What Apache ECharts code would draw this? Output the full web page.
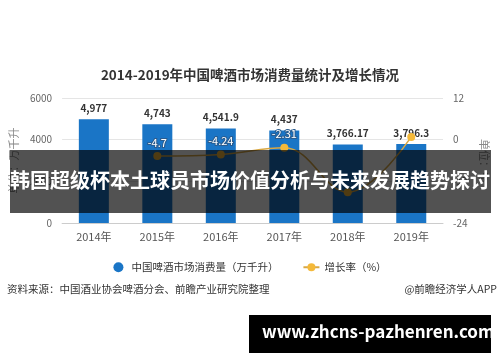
<!DOCTYPE html>
<html><head><meta charset="utf-8">
<script src="https://cdn.jsdelivr.net/npm/echarts@6/dist/echarts.min.js"></script>
<style>html,body{margin:0;padding:0;background:#fff}#c{width:500px;height:362px}</style>
</head><body><div id="c"></div>
<script>
var years = ['2014年','2015年','2016年','2017年','2018年','2019年'];
var consumption = [4977, 4743, 4541.9, 4437, 3766.17, 3796.3];
var growth = [null, -4.7, -4.24, -2.31, -15.12, 0.8];
var growthLabelShown = [false, true, true, true, false, false];
var leftTicks = [0, 2000, 4000, 6000];
var rightTicks = [-24, -12, 0, 12];

var FONT = '"Noto Sans CJK SC", "Noto Sans", sans-serif';
function fmt(v){
  var s = String(v).split('.');
  s[0] = s[0].replace(/\B(?=(\d{3})+(?!\d))/g, ',');
  return s.join('.');
}
var chart = echarts.init(document.getElementById('c'), null, {renderer:'canvas'});
chart.setOption({
  textStyle:{fontFamily:FONT},
  title:{text:'2014-2019年中国啤酒市场消费量统计及增长情况', left:'center', top:63,
    textStyle:{fontSize:13.5, fontWeight:'bold', color:'#333', fontFamily:FONT}},
  grid:{left:62, right:57, top:98, bottom:139},
  legend:{top:257, left:'center', itemGap:24, itemWidth:16, itemHeight:10,
    textStyle:{fontSize:10.5, color:'#333', fontFamily:FONT},
    data:[{name:'中国啤酒市场消费量（万千升）', icon:'circle'}, {name:'增长率（%）'}]},
  xAxis:{type:'category', data:years,
    axisLine:{lineStyle:{color:'#ccc'}}, axisTick:{show:false},
    axisLabel:{fontSize:11, color:'#555', margin:8, fontFamily:FONT}},
  yAxis:[
    {type:'value', min:leftTicks[0], max:leftTicks[leftTicks.length-1], interval:2000,
     name:'单位：万千升', nameLocation:'middle', nameGap:42, nameRotate:90,
     nameTextStyle:{fontSize:11, color:'#888', fontFamily:FONT},
     axisLine:{show:false}, axisTick:{show:false},
     axisLabel:{fontSize:10, color:'#666', margin:10, formatter:function(v){return String(v);}},
     splitLine:{lineStyle:{color:'#e5e5e5'}}},
    {type:'value', min:rightTicks[0], max:rightTicks[rightTicks.length-1], interval:12,
     name:'单位：%', nameLocation:'middle', nameGap:30, nameRotate:-90,
     nameTextStyle:{fontSize:11, color:'#888', fontFamily:FONT},
     axisLine:{show:false}, axisTick:{show:false},
     axisLabel:{fontSize:10, color:'#666', margin:10},
     splitLine:{show:false}}
  ],
  series:[
    {name:'中国啤酒市场消费量（万千升）', type:'bar', data:consumption, barWidth:30,
     itemStyle:{color:'#1a75c6'},
     label:{show:true, position:'top', distance:6, fontSize:10, fontWeight:'bold', color:'#333',
       formatter:function(p){return fmt(p.value);}}},
    {name:'增长率（%）', type:'line', yAxisIndex:1, smooth:0.4,
     data:growth.map(function(v,i){return {value:v, label:{show:growthLabelShown[i]}};}),
     symbol:'circle', symbolSize:8, connectNulls:false,
     lineStyle:{color:'#d9a844', width:1.5}, itemStyle:{color:'#f4b93a'},
     label:{position:'top', distance:4, fontSize:11, color:'#fff',
       textBorderColor:'#2a5c8f', textBorderWidth:2,
       formatter:function(p){return p.value;}}}
  ],
  graphic:[
    {type:'text', left:7, top:284, style:{text:'资料来源：中国酒业协会啤酒分会、前瞻产业研究院整理', fontSize:10.5, fill:'#333', fontFamily:FONT}},
    {type:'text', right:3, top:284, style:{text:'@前瞻经济学人APP', fontSize:10.5, fill:'#333', fontFamily:FONT}},
    {type:'rect', left:10, top:150, shape:{width:481, height:63}, style:{fill:'rgba(0,0,0,0.68)'}, z:100},
    {type:'text', left:'center', top:170, z:101, style:{text:'韩国超级杯本土球员市场价值分析与未来发展趋势探讨', fontSize:20, fontWeight:'bold', fill:'#fff', fontFamily:FONT}},
    {type:'rect', left:249, top:315, shape:{width:242, height:38}, style:{fill:'#000'}, z:100},
    {type:'text', left:262, top:323, z:101, style:{text:'www.zhcns-pazhenren.com', fontSize:17, fontWeight:'bold', fill:'#fff', fontFamily:FONT}}
  ]
});
</script></body></html>
